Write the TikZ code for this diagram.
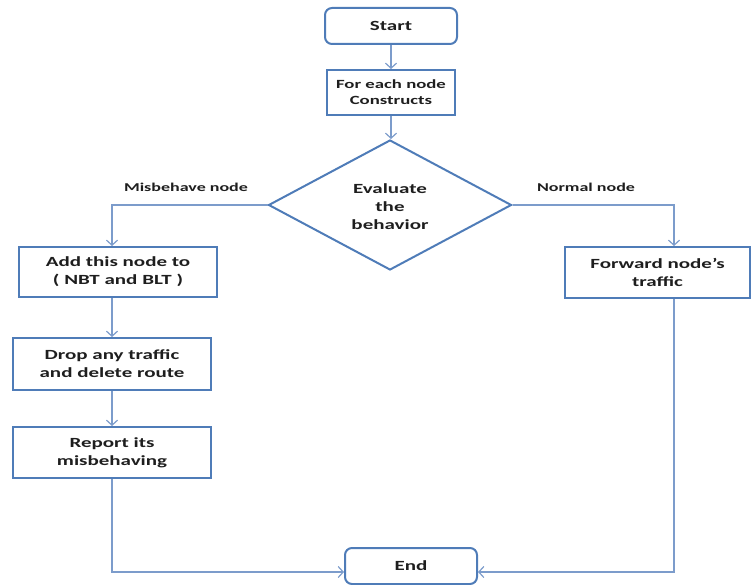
\documentclass[tikz,border=0pt]{standalone}
\usepackage{fontspec}
\setmainfont{Carlito}
\newfontfamily\bfnt[FakeStretch=1.5]{Carlito Bold}
\usetikzlibrary{shapes.geometric,arrows.meta}
\definecolor{boxblue}{HTML}{4F7CB8}
\definecolor{linblue}{HTML}{7C9CCB}
\definecolor{txt}{HTML}{1E1E1E}
\tikzset{
  every node/.style={text=txt, font=\bfnt\fontsize{14}{18}\selectfont, align=center},
  procbox/.style={draw=boxblue, line width=2pt, fill=white, inner sep=0pt},
  termbox/.style={procbox, rounded corners=7pt},
  decbox/.style={draw=boxblue, line width=2pt, diamond, inner sep=0pt, minimum width=243pt, minimum height=130pt},
  conn/.style={draw=linblue, line width=1.4pt, -{Straight Barb[length=5pt,width=11pt,line width=1.2pt]}},
  plain/.style={draw=linblue, line width=1.4pt},
  edgelbl/.style={font=\bfnt\fontsize{12}{14}\selectfont}
}
\begin{document}
\begin{tikzpicture}[x=1pt,y=-1pt]
\useasboundingbox (0,0) rectangle (751,585);
\node[termbox, minimum width=132pt, minimum height=36pt] (start) at (391,26) {Start};
\node[procbox, minimum width=128pt, minimum height=45pt, font=\bfnt\fontsize{12.5}{16}\selectfont] (each) at (391,92.5) {For each node\\Constructs};
\node[decbox] (dec) at (390,205) {};
\node (dectxt) at (390,207) {Evaluate\\the\\behavior};
\node[procbox, minimum width=198pt, minimum height=50pt] (add) at (118,272) {Add this node to\\( NBT and BLT )};
\node[procbox, minimum width=198pt, minimum height=52pt] (drop) at (112,364) {Drop any traffic\\and delete route};
\node[procbox, minimum width=198pt, minimum height=51pt] (report) at (112,452.5) {Report its\\misbehaving};
\node[procbox, minimum width=185pt, minimum height=51pt] (fwd) at (657.5,272.5) {Forward node’s\\traffic};
\node[termbox, minimum width=132pt, minimum height=36pt] (end) at (411,566) {End};
\node[edgelbl] (lbl1) at (186,187) {Misbehave node};
\node[edgelbl] (lbl2) at (586,187) {Normal node};
\coordinate (lx) at (112,0);
\coordinate (rx) at (674,0);
\coordinate (ey) at (0,572);
\draw[conn] (start.south) -- (each.north);
\draw[conn] (each.south) -- (each.south |- dec.north);
\draw[conn] (dec.west) -| (lx |- add.north);
\draw[conn] (dec.east) -| (rx |- fwd.north);
\draw[conn] (lx |- add.south) -- (lx |- drop.north);
\draw[conn] (drop.south) -- (report.north);
\draw[conn] (report.south) |- (end.west |- ey);
\draw[conn] (rx |- fwd.south) |- (end.east |- ey);
\end{tikzpicture}
\end{document}
